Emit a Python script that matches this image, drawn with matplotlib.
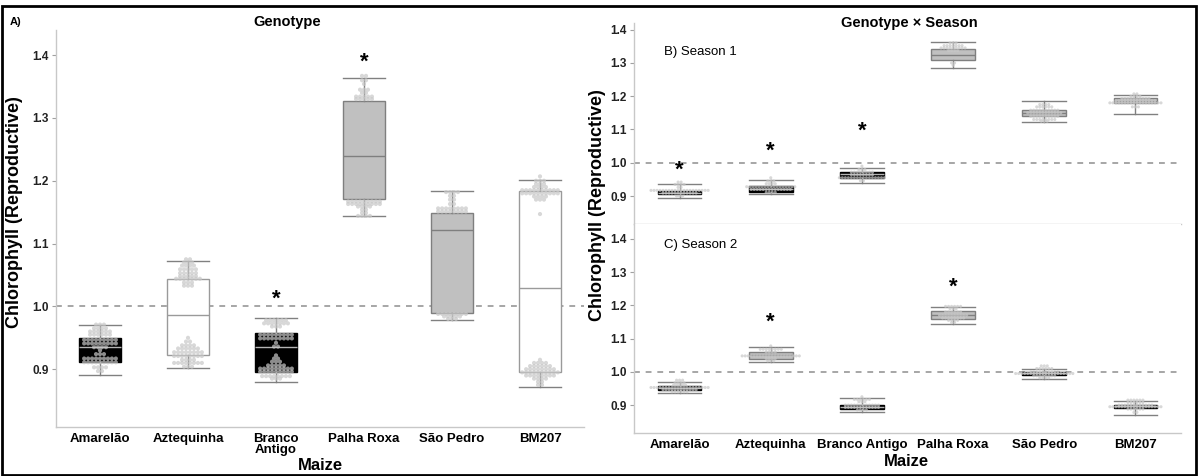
import numpy as np
import matplotlib.pyplot as plt
from matplotlib.patches import Rectangle

plt.rcParams['font.family'] = ['Liberation Sans', 'DejaVu Sans']

genotypes = ["Amarelão", "Aztequinha", "Branco Antigo", "Palha Roxa", "São Pedro", "BM207"]
labels_left = ["Amarelão", "Aztequinha", "Branco\nAntigo", "Palha Roxa", "São Pedro", "BM207"]

# A) Genotype
a_q1 = [0.911, 0.922, 0.896, 1.171, 0.990, 0.895]
a_med = [0.935, 0.987, 0.935, 1.240, 1.122, 1.030]
a_q3 = [0.949, 1.044, 0.957, 1.327, 1.148, 1.183]
a_lo = [0.890, 0.902, 0.880, 1.144, 0.978, 0.871]
a_hi = [0.970, 1.073, 0.982, 1.363, 1.184, 1.202]
a_fill = ["k", "w", "k", "g", "g", "w"]
a_dot_vals = [
    [0.971, 0.965, 0.960, 0.955, 0.947, 0.941, 0.935, 0.930, 0.924, 0.917, 0.911, 0.903, 0.897],
    [1.075, 1.070, 1.065, 1.059, 1.053, 1.048, 1.044, 1.038, 1.033,
     0.950, 0.944, 0.938, 0.933, 0.927, 0.921, 0.915, 0.910, 0.904],
    [0.978, 0.973, 0.968, 0.955, 0.949, 0.942, 0.936, 0.922, 0.917, 0.912, 0.906, 0.901, 0.896, 0.889, 0.885],
    [1.367, 1.360, 1.354, 1.345, 1.340, 1.334, 1.330, 1.167, 1.163, 1.159, 1.154, 1.149, 1.144],
    [1.182, 1.176, 1.170, 1.163, 1.156, 1.151, 0.988, 0.984, 0.980],
    [1.207, 1.200, 1.195, 1.190, 1.185, 1.180, 1.175, 1.170, 1.147,
     0.915, 0.910, 0.905, 0.900, 0.895, 0.890, 0.885, 0.880, 0.875],
]
a_dot_counts = [
    [3, 4, 6, 6, 9, 9, 4, 1, 3, 9, 9, 4, 2],
    [2, 3, 4, 5, 5, 5, 7, 3, 3, 1, 2, 4, 6, 8, 8, 4, 8, 3],
    [6, 7, 3, 9, 9, 1, 2, 1, 2, 3, 5, 9, 9, 8, 3],
    [2, 2, 1, 3, 2, 5, 5, 9, 9, 4, 2, 2, 4],
    [4, 2, 2, 2, 8, 8, 8, 5, 3],
    [1, 3, 3, 4, 10, 10, 4, 3, 1, 1, 4, 6, 8, 10, 8, 4, 2, 2],
]
a_stars = [(2, 1.012), (3, 1.389)]

# B) Season 1
b_q1 = [0.905, 0.913, 0.955, 1.308, 1.140, 1.180]
b_med = [0.910, 0.921, 0.965, 1.325, 1.150, 1.187]
b_q3 = [0.915, 0.930, 0.973, 1.342, 1.160, 1.195]
b_lo = [0.893, 0.905, 0.938, 1.285, 1.123, 1.147]
b_hi = [0.937, 0.947, 0.985, 1.363, 1.185, 1.203]
b_fill = ["k", "k", "k", "g", "g", "g"]
b_dot_vals = [
    [0.942, 0.935, 0.926, 0.917, 0.909, 0.900],
    [0.955, 0.945, 0.937, 0.928, 0.920, 0.911],
    [0.990, 0.980, 0.972, 0.964, 0.955, 0.946],
    [1.360, 1.352, 1.345, 1.337, 1.300, 1.293],
    [1.175, 1.168, 1.158, 1.150, 1.140, 1.130, 1.125],
    [1.207, 1.200, 1.193, 1.186, 1.180, 1.168],
]
b_dot_counts = [
    [2, 4, 2, 20, 12, 3],
    [1, 3, 4, 17, 14, 4],
    [1, 3, 8, 8, 16, 2],
    [3, 7, 9, 4, 2, 1],
    [4, 6, 10, 12, 10, 8, 3],
    [2, 4, 10, 14, 18, 3],
]
b_stars = [(0, 0.979), (1, 1.036), (2, 1.096)]

# C) Season 2
c_q1 = [0.945, 1.040, 0.888, 1.160, 0.990, 0.890]
c_med = [0.951, 1.050, 0.894, 1.172, 0.996, 0.896]
c_q3 = [0.957, 1.060, 0.900, 1.183, 1.000, 0.900]
c_lo = [0.935, 1.030, 0.880, 1.145, 0.980, 0.870]
c_hi = [0.970, 1.075, 0.922, 1.195, 1.010, 0.913]
c_fill = ["k", "g", "k", "g", "k", "k"]
c_dot_vals = [
    [0.975, 0.967, 0.960, 0.953, 0.946, 0.940],
    [1.078, 1.068, 1.060, 1.048, 1.040, 1.033],
    [0.925, 0.917, 0.910, 0.900, 0.893, 0.885],
    [1.197, 1.190, 1.180, 1.170, 1.162, 1.155, 1.148],
    [1.018, 1.010, 1.000, 0.995, 0.988, 0.982],
    [0.915, 0.908, 0.900, 0.895, 0.888, 0.878],
]
c_dot_counts = [
    [3, 4, 5, 20, 12, 6],
    [1, 8, 4, 20, 4, 3],
    [1, 6, 3, 12, 12, 4],
    [6, 3, 6, 10, 8, 4, 2],
    [3, 6, 10, 20, 8, 4],
    [6, 6, 12, 18, 6, 2],
]
c_stars = [(1, 1.148), (3, 1.256)]

fills = {"k": ("#000000", "#000000", "#b5b5b5"),
         "w": ("#ffffff", "#9a9a9a", "#9a9a9a"),
         "g": ("#c0c0c0", "#7f7f7f", "#7f7f7f")}


def panel(ax, q1, med, q3, lo, hi, fill, dvals, dcounts, stars, dx, ds, ylim):
    stats = []
    for i in range(6):
        stats.append(dict(q1=q1[i], med=med[i], q3=q3[i], whislo=lo[i], whishi=hi[i], fliers=[]))
    bp = ax.bxp(stats, positions=range(6), widths=0.48, capwidths=0.48, patch_artist=True,
                showfliers=False, manage_ticks=False,
                whiskerprops=dict(color="#808080", lw=1),
                capprops=dict(color="#808080", lw=1),
                medianprops=dict(lw=1))
    for i in range(6):
        fc, ec, mc = fills[fill[i]]
        bp['boxes'][i].set_facecolor(fc)
        bp['boxes'][i].set_edgecolor(ec)
        bp['boxes'][i].set_linewidth(1)
        bp['medians'][i].set_color(mc)
    for i in range(6):
        for v, c in zip(dvals[i], dcounts[i]):
            xs = i + (np.arange(c) - (c - 1) / 2) * dx
            ax.scatter(xs, [v] * c, s=ds, color="#c8c8c8", alpha=0.7, edgecolors="none", zorder=4)
    ax.axhline(1.0, color="#a6a6a6", ls=(0, (3, 3)), lw=1.4, zorder=0.5)
    for p, y in stars:
        ax.text(p, y, "*", ha="center", va="center", fontsize=16, fontweight="bold")
    ax.set_xlim(-0.5, 5.5)
    ax.set_ylim(*ylim)
    ax.set_yticks([0.9, 1.0, 1.1, 1.2, 1.3, 1.4])
    ax.set_yticklabels(["0.9", "1.0", "1.1", "1.2", "1.3", "1.4"], fontsize=8.5, fontweight="bold", color="#222222")
    for s in ["top", "right"]:
        ax.spines[s].set_visible(False)
    for s in ["left", "bottom"]:
        ax.spines[s].set_color("#c8c8c8")
        ax.spines[s].set_linewidth(1)
    ax.tick_params(axis="y", length=3, color="#a0a0a0", pad=2)
    ax.tick_params(axis="x", length=0, pad=4)


fig = plt.figure(figsize=(11.98, 4.76), dpi=100)
W, H = 1198, 476

axA = fig.add_axes([56 / W, 1 - 427 / H, (584 - 56) / W, (427 - 30) / H])
panel(axA, a_q1, a_med, a_q3, a_lo, a_hi, a_fill, a_dot_vals, a_dot_counts, a_stars, 0.045, 9, (0.808, 1.44))
axA.set_xticks(range(6))
axA.set_xticklabels(labels_left, fontsize=9.5, fontweight="bold", linespacing=0.95)

axB = fig.add_axes([634 / W, 1 - 224 / H, (1181 - 634) / W, (224 - 23) / H])
panel(axB, b_q1, b_med, b_q3, b_lo, b_hi, b_fill, b_dot_vals, b_dot_counts, b_stars, 0.033, 5, (0.816, 1.42))
axB.set_xticks([])

axC = fig.add_axes([634 / W, 1 - 433 / H, (1181 - 634) / W, (433 - 224) / H])
panel(axC, c_q1, c_med, c_q3, c_lo, c_hi, c_fill, c_dot_vals, c_dot_counts, c_stars, 0.033, 5, (0.816, 1.445))
axC.set_xticks(range(6))
axC.set_xticklabels(genotypes, fontsize=9.5, fontweight="bold")

fig.text(15 / W, 1 - 212 / H, "Chlorophyll (Reproductive)", rotation=90, ha="center", va="center",
         fontsize=13, fontweight="bold")
fig.text(597 / W, 1 - 205 / H, "Chlorophyll (Reproductive)", rotation=90, ha="center", va="center",
         fontsize=13, fontweight="bold")
fig.text(320 / W, 1 - 466 / H, "Maize", ha="center", va="center", fontsize=12, fontweight="bold")
fig.text(906 / W, 1 - 462 / H, "Maize", ha="center", va="center", fontsize=12, fontweight="bold")
fig.text(10 / W, 1 - 22 / H, "A)", ha="left", va="center", fontsize=8, fontweight="bold")
fig.text(287 / W, 1 - 22 / H, "Genotype", ha="center", va="center", fontsize=10.5, fontweight="bold")
fig.text(909 / W, 1 - 23 / H, "Genotype × Season", ha="center", va="center", fontsize=10.5, fontweight="bold")
fig.text(664 / W, 1 - 52 / H, "B) Season 1", ha="left", va="center", fontsize=9.5)
fig.text(664 / W, 1 - 245 / H, "C) Season 2", ha="left", va="center", fontsize=9.5)

fig.patches.append(Rectangle((0.002, 0.003), 0.996, 0.985, transform=fig.transFigure,
                             fill=False, edgecolor="black", lw=2))

fig.savefig("out.png", dpi=100)
